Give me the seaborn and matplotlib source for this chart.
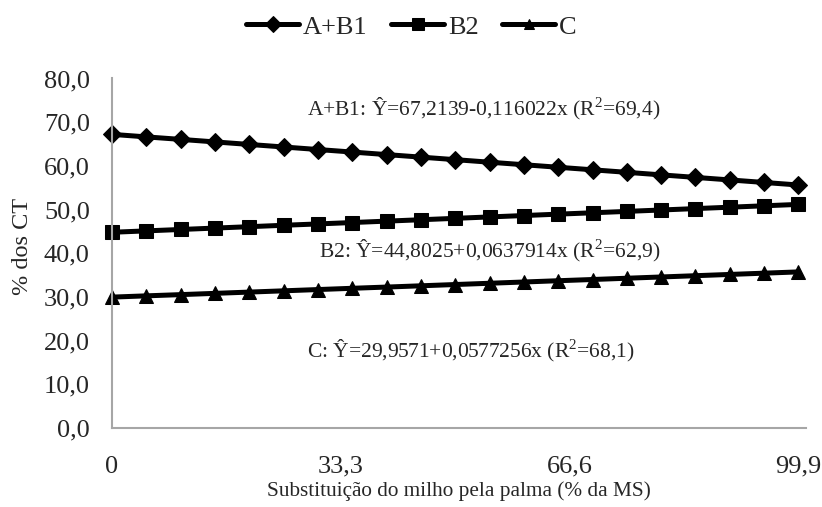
"""Carboidratos (A+B1, B2, C) em função da substituição do milho pela palma."""

import pandas as pd
import matplotlib
matplotlib.use('Agg')
import matplotlib.pyplot as plt
from matplotlib.ticker import FuncFormatter
import seaborn as sns

# ── DATA ──────────────────────────────────────────────────────────────────────
substituicao = [0.0, 4.995, 9.99, 14.985, 19.98, 24.975, 29.97, 34.965, 39.96,
                44.955, 49.95, 54.945, 59.94, 64.935, 69.93, 74.925, 79.92,
                84.915, 89.91, 94.905, 99.9]

a_b1 = [67.21, 66.63, 66.06, 65.48, 64.90, 64.32, 63.74, 63.16, 62.58, 62.00,
        61.42, 60.84, 60.26, 59.68, 59.10, 58.52, 57.94, 57.36, 56.78, 56.20,
        55.62]
b2 = [44.80, 45.12, 45.44, 45.76, 46.08, 46.40, 46.71, 47.03, 47.35, 47.67,
      47.99, 48.31, 48.63, 48.95, 49.26, 49.58, 49.90, 50.22, 50.54, 50.86,
      51.18]
c = [29.96, 30.25, 30.53, 30.82, 31.11, 31.40, 31.69, 31.98, 32.26, 32.55,
     32.84, 33.13, 33.42, 33.71, 33.99, 34.28, 34.57, 34.86, 35.15, 35.44,
     35.73]

series_names = ['A+B1', 'B2', 'C']
x_ticks = [0, 33.3, 66.6, 99.9]
x_tick_labels = ['0', '33,3', '66,6', '99,9']
y_ticks = [0, 10, 20, 30, 40, 50, 60, 70, 80]

equations = [
    'A+B1: Ŷ=67,2139-0,116022x (R$^2$=69,4)',
    'B2: Ŷ=44,8025+0,0637914x (R$^2$=62,9)',
    'C: Ŷ=29,9571+0,0577256x (R$^2$=68,1)',
]

# ── PLOT ──────────────────────────────────────────────────────────────────────

sns.set_style('white')
plt.rcParams['font.family'] = ['Liberation Serif', 'DejaVu Serif']
plt.rcParams['mathtext.fontset'] = 'custom'
plt.rcParams['mathtext.rm'] = 'Liberation Serif'

df = pd.DataFrame({
    'x': substituicao * 3,
    'y': a_b1 + b2 + c,
    'grupo': [n for n in series_names for _ in substituicao],
})

styles = {'A+B1': ('D', 9.6), 'B2': ('s', 10), 'C': ('^', 9.8)}

fig = plt.figure(figsize=(8.22, 5.07), dpi=100)
ax = fig.add_axes([0.1363, 0.1558, 0.8442, 0.6894])

for name in series_names:
    marker, ms = styles[name]
    sns.lineplot(data=df[df['grupo'] == name], x='x', y='y', ax=ax,
                 color='black', linewidth=3.6, marker=marker, markersize=ms,
                 markeredgecolor='black', label=name, clip_on=False)

ax.set_xlim(0, 101)
ax.set_ylim(0, 80)
ax.set_xticks(x_ticks)
ax.set_xticklabels(x_tick_labels)
ax.set_yticks(y_ticks)
ax.yaxis.set_major_formatter(FuncFormatter(lambda v, _: f'{v:.1f}'.replace('.', ',')))
ax.tick_params(length=0, labelsize=19)
ax.tick_params(axis='y', pad=16)
ax.tick_params(axis='x', pad=20)

for side in ['top', 'right']:
    ax.spines[side].set_visible(False)
for side in ['left', 'bottom']:
    ax.spines[side].set_color('#a6a6a6')
    ax.spines[side].set_linewidth(1.5)

ax.set_xlabel('Substituição do milho pela palma (% da MS)', fontsize=15.3)
ax.xaxis.set_label_coords(0.5, -0.152)
ax.set_ylabel('% dos CT', fontsize=17.5)
ax.yaxis.set_label_coords(-0.114, 0.52)

eq_pos = [(54.1, 73.2), (55.0, 40.6), (52.3, 17.7)]
for text, (xp, yp) in zip(equations, eq_pos):
    ax.text(xp, yp, text, fontsize=15.5, ha='center', va='center')

handles, labels = ax.get_legend_handles_labels()
ax.legend(handles, labels, loc='center', bbox_to_anchor=(0.5006, 0.947),
          bbox_transform=fig.transFigure, ncol=3, frameon=False,
          fontsize=19, handlelength=2.0, handletextpad=0.15,
          columnspacing=0.9, markerscale=0.8)

fig.savefig('out.png', dpi=100)
